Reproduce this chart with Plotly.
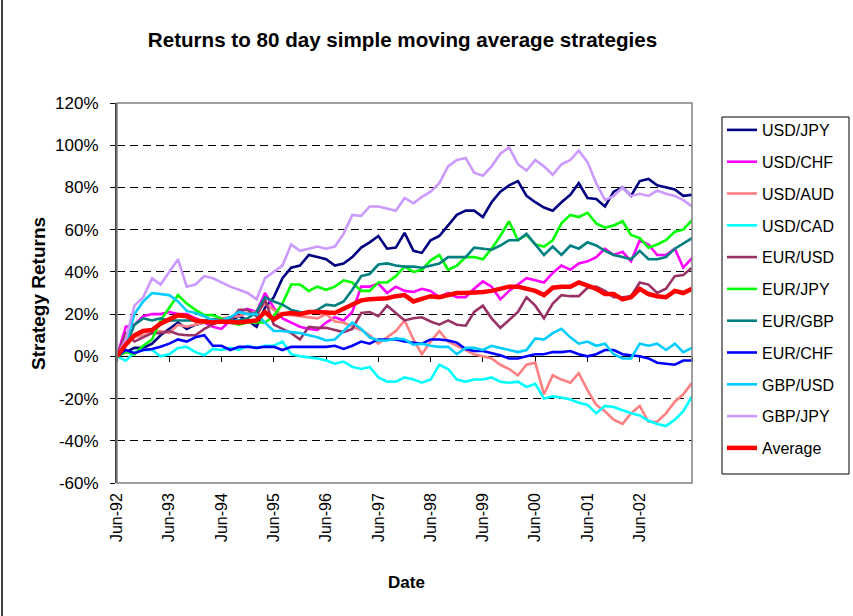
import pandas as pd
import plotly.graph_objects as go

# ---- data (percent returns, every second month from Jun-92) ----
dates = pd.date_range("1992-06-01", periods=67, freq="2MS")

usd_jpy = [0, 2, 4, 4, 6, 10, 13, 16, 13, 15, 16, 17, 18, 17, 19, 17, 14, 23, 28, 37,
           42, 43, 48, 47, 46, 43, 44, 47, 51.5, 54, 57, 51, 51.5, 58.5, 50, 49, 55, 57, 62, 67,
           69, 69, 66, 73, 78, 81, 83, 76, 73, 70.5, 69, 73, 76.5, 82, 75, 74.5, 71, 78, 80, 76,
           83, 84, 81, 80, 79, 76, 76.5]
usd_chf = [0, 14, 15, 19, 20, 20, 21, 20, 20, 18, 16, 14, 13, 17, 21, 22.5, 21, 30, 23, 18,
           16, 14, 13, 12.5, 16, 18.5, 17, 21, 33, 33, 34.5, 30, 33, 31, 30.5, 32, 31, 28, 30, 28,
           28, 32, 35.5, 33, 27, 31, 34, 37, 36, 35, 39.5, 43, 41, 44, 45, 47, 51, 48, 49.5, 45,
           55, 53, 48, 48, 51, 42, 46.5]
usd_aud = [0, 6, 9, 10, 11, 12, 11, 15, 14, 15, 16, 17, 18, 18.5, 19, 20.5, 21, 25, 22, 20,
           19.5, 19, 18.5, 18, 20, 16.5, 16, 14, 12.5, 10, 6, 9, 12, 17, 8, 1, 7, 12, 7, 5,
           3, 1, 0, -1, -4, -6, -9, -4, -3, -18, -9, -11, -12.5, -8, -16, -23, -26, -30, -32, -27,
           -23.5, -31, -31, -27, -21.5, -18, -12.5]
usd_cad = [0, -2, 2, 3, 3, 0, 1, 4, 4.5, 2, 0.5, 3.5, 3, 4, 3, 5, 4, 5, 5, 7,
           1, 0, -0.5, -1, -2, -3.5, -2.5, -5, -6, -5, -10, -12, -12, -10, -11, -12.5, -11, -4, -6, -11,
           -12, -11, -11, -10, -12, -12.5, -12, -14.5, -13, -20, -19, -19.5, -20.5, -22, -23, -27, -23.5, -24, -25.5, -27,
           -28, -30.5, -32, -33, -30, -26, -19]
eur_usd = [0, 11, 7, 9, 11, 11, 12, 10.5, 10, 10, 13, 15, 17, 17, 22, 22, 19, 27, 15, 13,
           11, 8, 14, 13.5, 13.5, 12.5, 11.5, 13, 20.5, 21, 19, 24, 20.5, 17, 18, 18.5, 16.5, 15, 17, 15,
           14.5, 21, 24, 18, 13.5, 17, 21, 28, 24, 18, 25, 29, 28.5, 28.5, 32.5, 33, 31, 28, 28, 28.5,
           35, 34, 30, 32, 38, 38.5, 42]
eur_jpy = [0, 2, 1, 5, 8, 17, 23, 29, 25, 22, 19.5, 19.5, 18, 16, 15, 16, 16, 16, 19, 25,
           34, 34, 31, 33, 31.5, 33, 36, 35, 31, 31, 35, 35, 38, 42.5, 40, 41, 45.5, 48, 41, 43,
           47, 47, 46, 51, 57, 64, 55, 57.5, 53, 52, 55, 63, 67, 66, 68, 63, 61, 62, 64, 57.5,
           56, 51.5, 53, 55, 59, 60, 64.5]
eur_gbp = [0, 5, 15, 18, 17, 18, 17, 17, 17, 17, 17, 17.5, 17, 17, 17, 18, 21, 28, 26, 24.5,
           22, 21, 20.5, 22, 24.5, 24, 26, 31.5, 38, 39, 43.5, 44, 43, 42.5, 42.5, 42, 43, 44, 47, 47,
           47, 51.5, 51, 50.5, 52.5, 55, 55, 58, 53, 48, 52, 48, 52.5, 51, 54, 52.5, 50, 48, 47, 46,
           50, 46, 46, 47, 51, 53.5, 56]
eur_chf = [0, 3, 1.5, 3, 3.5, 4.5, 6, 8, 7, 9, 10, 5, 5, 3, 4.5, 4.5, 4, 4.5, 4.5, 3,
           4.5, 4.5, 4.5, 4.5, 4.5, 5, 3.5, 5, 7, 6, 8, 8, 8, 7, 6.5, 6, 8, 8, 7.5, 6.5,
           3.5, 2.5, 2.5, 1.5, 0.5, -1, -1, 0, 1, 1, 2, 2, 2.5, 1, 0, 1, 3, 3, 1, 0.5,
           0, -1, -3, -3.5, -4, -2, -2]
gbp_usd = [0, 6, 20, 26, 30, 29.5, 29, 26, 21.5, 20.5, 19, 17, 17, 18.5, 21, 20, 20, 16, 12, 12,
           11.5, 11, 10, 9, 7.5, 8, 12, 16, 13, 9, 7.5, 7.5, 8.5, 8, 5.5, 6, 5, 4.5, 4.5, 1,
           4, 4, 3, 5, 4, 3, 2, 3, 8.5, 8, 11, 13, 9, 6, 7, 5, 6, 1, -1, -1,
           6, 5, 6, 3, 6, 2, 4]
gbp_jpy = [0, 8, 24, 28, 37, 34, 40, 46, 33, 34, 38, 37, 35, 33, 31.5, 30, 27, 37, 40, 43,
           53, 50, 51, 52, 51, 52, 58, 67, 66.5, 71, 71, 70, 69, 75, 72.5, 75.5, 78, 82, 90, 93,
           94, 87, 85.5, 90, 96, 99, 91, 88, 93, 90, 86, 91, 93, 97.5, 92, 82, 74, 76, 80, 76,
           77, 76, 78.5, 77, 76, 74, 71]
average = [0, 5.5, 10, 12, 12.5, 15.5, 17.5, 19.5, 19, 17, 16.5, 16, 16.5, 16, 16, 16.5, 17, 21, 17.5, 20,
           20.5, 20, 21, 21, 20.5, 20.5, 22.5, 24.5, 26.5, 27, 27, 27.5, 28.5, 29, 26, 27.5, 28.5, 28, 29, 30,
           30, 30.5, 30.5, 31, 32, 33, 33, 32, 31, 29, 32.5, 33, 33, 35, 33.5, 32, 29.5, 29.5, 27, 28,
           32, 29.5, 28.5, 28, 31, 30, 32]

series_names = ["USD/JPY", "USD/CHF", "USD/AUD", "USD/CAD", "EUR/USD",
                "EUR/JPY", "EUR/GBP", "EUR/CHF", "GBP/USD", "GBP/JPY"]
series_values = [usd_jpy, usd_chf, usd_aud, usd_cad, eur_usd,
                 eur_jpy, eur_gbp, eur_chf, gbp_usd, gbp_jpy]
series_colors = ["#000080", "#FF00FF", "#FF8080", "#00FFFF", "#993366",
                 "#00FF00", "#008080", "#0000FF", "#00CCFF", "#CC99FF"]

tick_dates = pd.date_range("1992-06-01", periods=11, freq="12MS")
tick_labels = ["Jun-92", "Jun-93", "Jun-94", "Jun-95", "Jun-96", "Jun-97",
               "Jun-98", "Jun-99", "Jun-00", "Jun-01", "Jun-02"]
y_ticks = [-60, -40, -20, 0, 20, 40, 60, 80, 100, 120]
y_tick_labels = ["-60%", "-40%", "-20%", "0%", "20%", "40%", "60%", "80%", "100%", "120%"]

FONT = "Liberation Sans, Arial, sans-serif"
x_range = ["1992-06-01", "2003-06-01"]

fig = go.Figure()
for name, vals, col in zip(series_names, series_values, series_colors):
    fig.add_trace(go.Scatter(x=dates, y=vals, name=name, mode="lines",
                             line=dict(color=col, width=2.6), legendgroup=name))
fig.add_trace(go.Scatter(x=dates, y=average, name="Average", mode="lines",
                         line=dict(color="#FF0000", width=4.5), legendgroup="Average",
                         xaxis="x2"))

# geometry helpers (pixel -> paper)
L, R, T, B = 117, 692, 103, 483
W, H = 853, 616
def px(x):
    return (x - L) / (R - L)
def py(y):
    return (B - y) / (B - T)

fig.update_layout(
    width=W, height=H,
    margin=dict(l=L, r=W - R, t=T, b=H - B),
    paper_bgcolor="white", plot_bgcolor="white",
    font=dict(family=FONT, size=16, color="black"),
    title=dict(text="<b>Returns to 80 day simple moving average strategies</b>",
               x=402.5 / W, xanchor="center", y=1 - 40 / H, yanchor="middle",
               font=dict(size=20.6, family=FONT, color="black")),
    xaxis=dict(range=x_range, type="date", tickvals=list(tick_dates), ticktext=tick_labels,
               tickangle=-90, showgrid=False, zeroline=False, showline=False, ticks="",
               tickfont=dict(size=16), ticklabelstandoff=6),
    xaxis2=dict(range=x_range, type="date", overlaying="x", anchor="free", position=1 / 3,
                showline=True, linecolor="black", linewidth=1, ticks="outside", ticklen=5,
                tickcolor="black", dtick="M12", tick0="1992-06-01",
                showticklabels=False, showgrid=False, zeroline=False, layer="below traces"),
    yaxis=dict(range=[-60, 120], tickvals=y_ticks, ticktext=y_tick_labels,
               showgrid=True, gridcolor="black", gridwidth=1, griddash="8px,5px",
               zeroline=False, showline=True, linecolor="#444444", linewidth=2,
               ticks="outside", ticklen=5, tickcolor="black", tickfont=dict(size=17),
               ticklabelstandoff=8),
    showlegend=True,
    legend=dict(x=px(722), y=py(113), xanchor="left", yanchor="top",
                borderwidth=0, bgcolor="rgba(0,0,0,0)",
                font=dict(size=16), tracegroupgap=8, traceorder="grouped",
                itemwidth=30),
    annotations=[
        dict(text="<b>Strategy Returns</b>", x=px(38), y=py(294), xref="paper", yref="paper",
             xanchor="center", yanchor="middle",
             textangle=-90, showarrow=False, font=dict(size=19)),
        dict(text="<b>Date</b>", x=px(406), y=py(582), xref="paper", yref="paper",
             xanchor="center", yanchor="middle",
             showarrow=False, font=dict(size=17)),
    ],
    shapes=[
        dict(type="rect", xref="paper", yref="paper", x0=0, x1=1, y0=0, y1=1,
             line=dict(color="#808080", width=1.5), layer="above"),
        dict(type="rect", xref="paper", yref="paper", x0=px(722), x1=px(849),
             y0=py(474), y1=py(117), line=dict(color="black", width=1)),
        dict(type="line", xref="paper", yref="paper", x0=px(2), x1=px(2),
             y0=py(616), y1=py(0), line=dict(color="black", width=1.5)),
    ],
)

fig.write_html("out.html", config={"displayModeBar": False},
               post_script="document.body.style.margin='0px';")
